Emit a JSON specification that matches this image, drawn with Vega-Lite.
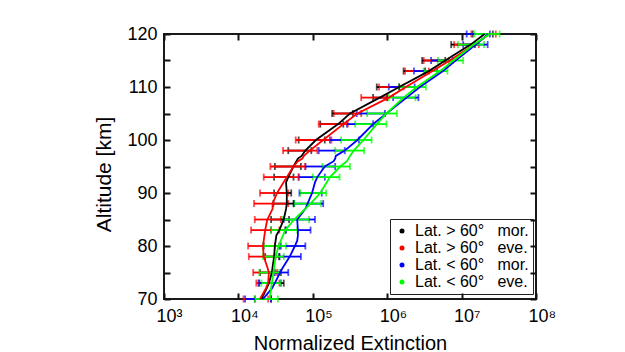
{
  "$schema": "https://vega.github.io/schema/vega-lite/v6.json",
  "width": 372,
  "height": 265,
  "autosize": {"type": "none"},
  "padding": {"left": 164, "top": 34, "right": 89, "bottom": 53},
  "background": "white",
  "datasets": {
    "prof": [
      {"s":"k","alt":120,"v":2.04e7},{"s":"k","alt":118,"v":1.32e7},{"s":"k","alt":115,"v":6.03e6},{"s":"k","alt":113,"v":3.63e6},{"s":"k","alt":110,"v":1.45e6},{"s":"k","alt":108,"v":7.94e5},{"s":"k","alt":105,"v":3.16e5},{"s":"k","alt":103,"v":2.19e5},{"s":"k","alt":100,"v":1.10e5},{"s":"k","alt":98,"v":7.94e4},{"s":"k","alt":97,"v":7.08e4},{"s":"k","alt":96.5,"v":6.31e4},{"s":"k","alt":95,"v":5.50e4},{"s":"k","alt":93,"v":4.68e4},{"s":"k","alt":92,"v":4.37e4},{"s":"k","alt":90,"v":4.47e4},{"s":"k","alt":88,"v":4.47e4},{"s":"k","alt":87,"v":4.37e4},{"s":"k","alt":85,"v":4.07e4},{"s":"k","alt":83,"v":3.55e4},{"s":"k","alt":82,"v":3.24e4},{"s":"k","alt":80,"v":3.09e4},{"s":"k","alt":78,"v":3.02e4},{"s":"k","alt":76,"v":2.88e4},{"s":"k","alt":75,"v":2.82e4},{"s":"k","alt":73,"v":2.57e4},{"s":"k","alt":72,"v":2.40e4},{"s":"k","alt":70,"v":2.04e4},
      {"s":"r","alt":120,"v":2.40e7},{"s":"r","alt":118,"v":1.48e7},{"s":"r","alt":115,"v":6.92e6},{"s":"r","alt":113,"v":4.07e6},{"s":"r","alt":110,"v":1.78e6},{"s":"r","alt":108,"v":1.05e6},{"s":"r","alt":105,"v":3.98e5},{"s":"r","alt":103,"v":2.57e5},{"s":"r","alt":100,"v":1.38e5},{"s":"r","alt":98,"v":9.12e4},{"s":"r","alt":97,"v":7.59e4},{"s":"r","alt":96.5,"v":7.24e4},{"s":"r","alt":96,"v":6.31e4},{"s":"r","alt":95,"v":5.50e4},{"s":"r","alt":93,"v":4.47e4},{"s":"r","alt":90,"v":3.31e4},{"s":"r","alt":88,"v":2.88e4},{"s":"r","alt":87,"v":2.88e4},{"s":"r","alt":85,"v":2.45e4},{"s":"r","alt":83,"v":2.29e4},{"s":"r","alt":82,"v":2.24e4},{"s":"r","alt":80,"v":2.14e4},{"s":"r","alt":78,"v":2.19e4},{"s":"r","alt":76,"v":2.45e4},{"s":"r","alt":75,"v":2.57e4},{"s":"r","alt":73,"v":2.51e4},{"s":"r","alt":72,"v":2.34e4},{"s":"r","alt":70,"v":1.95e4},
      {"s":"b","alt":120,"v":2.29e7},{"s":"b","alt":118,"v":1.55e7},{"s":"b","alt":115,"v":8.32e6},{"s":"b","alt":113,"v":5.62e6},{"s":"b","alt":110,"v":2.75e6},{"s":"b","alt":108,"v":1.82e6},{"s":"b","alt":105,"v":9.77e5},{"s":"b","alt":103,"v":6.46e5},{"s":"b","alt":100,"v":3.98e5},{"s":"b","alt":98,"v":2.69e5},{"s":"b","alt":97,"v":2.04e5},{"s":"b","alt":96.5,"v":2.00e5},{"s":"b","alt":96,"v":1.91e5},{"s":"b","alt":95,"v":1.45e5},{"s":"b","alt":93,"v":1.15e5},{"s":"b","alt":92,"v":1.07e5},{"s":"b","alt":90,"v":9.77e4},{"s":"b","alt":88,"v":8.51e4},{"s":"b","alt":87,"v":7.94e4},{"s":"b","alt":85,"v":6.17e4},{"s":"b","alt":83,"v":6.31e4},{"s":"b","alt":82,"v":6.31e4},{"s":"b","alt":81,"v":6.17e4},{"s":"b","alt":80,"v":5.75e4},{"s":"b","alt":78,"v":4.90e4},{"s":"b","alt":76,"v":3.98e4},{"s":"b","alt":75,"v":3.63e4},{"s":"b","alt":73,"v":3.09e4},{"s":"b","alt":72,"v":2.82e4},{"s":"b","alt":70,"v":2.14e4},
      {"s":"g","alt":120,"v":2.40e7},{"s":"g","alt":118,"v":1.45e7},{"s":"g","alt":115,"v":7.76e6},{"s":"g","alt":113,"v":5.13e6},{"s":"g","alt":110,"v":2.51e6},{"s":"g","alt":108,"v":1.66e6},{"s":"g","alt":105,"v":9.77e5},{"s":"g","alt":103,"v":7.24e5},{"s":"g","alt":100,"v":4.79e5},{"s":"g","alt":98,"v":3.55e5},{"s":"g","alt":97,"v":3.16e5},{"s":"g","alt":96,"v":2.88e5},{"s":"g","alt":95,"v":2.34e5},{"s":"g","alt":93,"v":1.70e5},{"s":"g","alt":90,"v":1.26e5},{"s":"g","alt":88,"v":9.33e4},{"s":"g","alt":85,"v":5.62e4},{"s":"g","alt":83,"v":4.27e4},{"s":"g","alt":82,"v":3.98e4},{"s":"g","alt":80,"v":3.47e4},{"s":"g","alt":78,"v":3.16e4},{"s":"g","alt":76,"v":3.02e4},{"s":"g","alt":75,"v":2.95e4},{"s":"g","alt":73,"v":2.82e4},{"s":"g","alt":72,"v":2.75e4},{"s":"g","alt":70,"v":2.63e4}
    ],
    "bars": [
      {"s":"k","alt":120,"lo":1.41e7,"hi":2.63e7},{"s":"r","alt":120,"lo":1.35e7,"hi":2.88e7},{"s":"b","alt":120,"lo":1.17e7,"hi":2.40e7},{"s":"g","alt":120,"lo":1.48e7,"hi":3.24e7},
      {"s":"k","alt":118,"lo":7.24e6,"hi":1.51e7},{"s":"r","alt":118,"lo":7.94e6,"hi":1.70e7},{"s":"b","alt":118,"lo":1.05e7,"hi":2.24e7},{"s":"g","alt":118,"lo":8.91e6,"hi":2.00e7},
      {"s":"k","alt":115,"lo":2.95e6,"hi":6.03e6},{"s":"r","alt":115,"lo":3.09e6,"hi":6.76e6},{"s":"b","alt":115,"lo":3.89e6,"hi":7.59e6},{"s":"g","alt":115,"lo":4.79e6,"hi":1.05e7},
      {"s":"k","alt":113,"lo":1.66e6,"hi":3.24e6},{"s":"r","alt":113,"lo":1.74e6,"hi":3.63e6},{"s":"b","alt":113,"lo":2.29e6,"hi":4.68e6},{"s":"g","alt":113,"lo":3.09e6,"hi":6.46e6},
      {"s":"k","alt":110,"lo":7.24e5,"hi":1.45e6},{"s":"r","alt":110,"lo":7.76e5,"hi":1.66e6},{"s":"b","alt":110,"lo":1.05e6,"hi":2.34e6},{"s":"g","alt":110,"lo":1.45e6,"hi":3.31e6},
      {"s":"k","alt":108,"lo":6.46e5,"hi":1.00e6},{"s":"r","alt":108,"lo":4.47e5,"hi":9.77e5},{"s":"b","alt":108,"lo":1.20e6,"hi":2.63e6},{"s":"g","alt":108,"lo":1.05e6,"hi":2.40e6},
      {"s":"k","alt":105,"lo":1.82e5,"hi":3.47e5},{"s":"r","alt":105,"lo":1.91e5,"hi":4.47e5},{"s":"b","alt":105,"lo":3.89e5,"hi":9.33e5},{"s":"g","alt":105,"lo":5.37e5,"hi":1.35e6},
      {"s":"k","alt":103,"lo":1.26e5,"hi":2.57e5},{"s":"r","alt":103,"lo":1.20e5,"hi":2.95e5},{"s":"b","alt":103,"lo":2.88e5,"hi":6.46e5},{"s":"g","alt":103,"lo":3.72e5,"hi":9.77e5},
      {"s":"k","alt":100,"lo":6.46e4,"hi":1.45e5},{"s":"r","alt":100,"lo":5.89e4,"hi":1.78e5},{"s":"b","alt":100,"lo":1.70e5,"hi":4.17e5},{"s":"g","alt":100,"lo":2.40e5,"hi":6.17e5},
      {"s":"k","alt":98,"lo":4.68e4,"hi":9.55e4},{"s":"r","alt":98,"lo":3.98e4,"hi":1.15e5},{"s":"b","alt":98,"lo":1.20e5,"hi":2.69e5},{"s":"g","alt":98,"lo":2.00e5,"hi":4.90e5},
      {"s":"k","alt":95,"lo":3.09e4,"hi":6.92e4},{"s":"r","alt":95,"lo":2.69e4,"hi":7.94e4},{"s":"b","alt":95,"lo":7.94e4,"hi":2.00e5},{"s":"g","alt":95,"lo":1.35e5,"hi":3.16e5},
      {"s":"k","alt":93,"lo":3.02e4,"hi":5.50e4},{"s":"r","alt":93,"lo":2.19e4,"hi":6.46e4},{"s":"b","alt":93,"lo":6.46e4,"hi":1.45e5},{"s":"g","alt":93,"lo":1.00e5,"hi":2.29e5},
      {"s":"k","alt":90,"lo":3.02e4,"hi":5.13e4},{"s":"r","alt":90,"lo":1.95e4,"hi":4.68e4},{"s":"b","alt":90,"lo":6.61e4,"hi":1.32e5},{"s":"g","alt":90,"lo":6.76e4,"hi":1.51e5},
      {"s":"k","alt":88,"lo":2.95e4,"hi":5.50e4},{"s":"r","alt":88,"lo":1.62e4,"hi":4.68e4},{"s":"b","alt":88,"lo":5.62e4,"hi":1.38e5},{"s":"g","alt":88,"lo":5.62e4,"hi":1.29e5},
      {"s":"k","alt":85,"lo":2.75e4,"hi":4.79e4},{"s":"r","alt":85,"lo":1.66e4,"hi":3.72e4},{"s":"b","alt":85,"lo":4.07e4,"hi":1.07e5},{"s":"g","alt":85,"lo":3.98e4,"hi":8.91e4},
      {"s":"k","alt":83,"lo":2.75e4,"hi":4.27e4},{"s":"r","alt":83,"lo":1.48e4,"hi":3.55e4},{"s":"b","alt":83,"lo":4.37e4,"hi":9.33e4},{"s":"g","alt":83,"lo":2.75e4,"hi":6.17e4},
      {"s":"k","alt":80,"lo":2.19e4,"hi":3.55e4},{"s":"r","alt":80,"lo":1.35e4,"hi":3.09e4},{"s":"b","alt":80,"lo":3.72e4,"hi":7.94e4},{"s":"g","alt":80,"lo":2.14e4,"hi":4.37e4},
      {"s":"k","alt":78,"lo":2.29e4,"hi":3.55e4},{"s":"r","alt":78,"lo":1.38e4,"hi":3.16e4},{"s":"b","alt":78,"lo":3.55e4,"hi":6.92e4},{"s":"g","alt":78,"lo":2.14e4,"hi":4.07e4},
      {"s":"k","alt":75,"lo":1.95e4,"hi":3.72e4},{"s":"r","alt":75,"lo":1.58e4,"hi":3.31e4},{"s":"b","alt":75,"lo":3.09e4,"hi":4.68e4},{"s":"g","alt":75,"lo":1.91e4,"hi":3.55e4},
      {"s":"k","alt":73,"lo":1.91e4,"hi":4.07e4},{"s":"r","alt":73,"lo":1.74e4,"hi":3.55e4},{"s":"b","alt":73,"lo":1.86e4,"hi":3.72e4},{"s":"g","alt":73,"lo":2.04e4,"hi":3.72e4},
      {"s":"k","alt":70,"lo":1.66e4,"hi":2.75e4},{"s":"r","alt":70,"lo":1.17e4,"hi":2.51e4},{"s":"b","alt":70,"lo":1.23e4,"hi":2.75e4},{"s":"g","alt":70,"lo":1.66e4,"hi":3.39e4}
    ]
  },
  "layer": [
    {
      "data": {"name": "bars"},
      "mark": {"type": "errorbar", "ticks": true, "size": 7, "thickness": 1.8},
      "encoding": {
        "x": {"field": "lo", "type": "quantitative", "scale": {"type": "log", "domain": [1000, 100000000], "nice": false},
              "axis": {"orient": "top", "values": [1000, 10000, 100000, 1000000, 10000000, 100000000], "labels": false, "title": null, "ticks": true, "tickSize": 6, "offset": -6, "domain": false, "tickColor": "#111", "tickWidth": 2, "zindex": 2}},
        "x2": {"field": "hi"},
        "y": {"field": "alt", "type": "quantitative", "scale": {"domain": [70, 120], "nice": false, "zero": false},
              "axis": {"orient": "right", "values": [70, 75, 80, 85, 90, 95, 100, 105, 110, 115, 120], "labels": false, "title": null, "ticks": true, "tickSize": 6, "offset": -6, "domain": false, "tickColor": "#111", "tickWidth": 2, "zindex": 2}},
        "color": {"field": "s", "type": "nominal", "scale": {"domain": ["k", "r", "b", "g"], "range": ["#000000", "#ff0000", "#0000ff", "#00ff00"]}}
      }
    },
    {
      "data": {"name": "prof"},
      "mark": {"type": "line", "strokeWidth": 1.8},
      "encoding": {
        "x": {"field": "v", "type": "quantitative", "scale": {"type": "log", "domain": [1000, 100000000], "nice": false},
              "axis": {"orient": "bottom", "values": [1000, 10000, 100000, 1000000, 10000000, 100000000], "title": "Normalized Extinction", "ticks": true, "tickSize": 6, "offset": -6, "domain": false, "tickColor": "#111", "tickWidth": 2, "zindex": 2,
                       "labelExpr": "'10' + ['⁰','¹','²','³','⁴','⁵','⁶','⁷','⁸'][round(log(datum.value)/LN10)]",
                       "labelAlign": "left", "labelOffset": -8, "labelFlush": false,
                       "labelFontSize": 18, "labelPadding": 8, "titleFontSize": 20, "titlePadding": 8}},
        "y": {"field": "alt", "type": "quantitative", "scale": {"domain": [70, 120], "nice": false, "zero": false},
              "axis": {"orient": "left", "values": [70, 75, 80, 85, 90, 95, 100, 105, 110, 115, 120], "title": "Altitude [km]", "ticks": true, "tickSize": 6, "offset": -6, "domain": false, "tickColor": "#111", "tickWidth": 2, "zindex": 2,
                       "labelExpr": "datum.value % 10 === 0 ? datum.label : ''", "labelFlush": false,
                       "labelFontSize": 18, "labelPadding": 7, "titleFontSize": 21, "titlePadding": 12, "titleY": 140}},
        "order": {"field": "alt", "type": "quantitative"},
        "color": {"field": "s", "type": "nominal", "scale": {"domain": ["k", "r", "b", "g"], "range": ["#000000", "#ff0000", "#0000ff", "#00ff00"]},
                  "legend": {"title": null, "orient": "none", "legendX": 226, "legendY": 185,
                             "labelExpr": "datum.value === 'k' ? 'Lat. > 60°\u00a0\u00a0\u00a0mor.' : datum.value === 'r' ? 'Lat. > 60°\u00a0\u00a0\u00a0eve.' : datum.value === 'b' ? 'Lat. < 60°\u00a0\u00a0\u00a0mor.' : 'Lat. < 60°\u00a0\u00a0\u00a0eve.'",
                             "symbolType": "circle", "symbolSize": 25, "symbolStrokeWidth": 0, "labelFontSize": 16, "labelFont": "Liberation Sans", "labelColor": "#000",
                             "strokeColor": "#222", "fillColor": "white", "padding": 4, "rowPadding": 1, "labelOffset": 5,
                             "encode": {"symbols": {"update": {"fill": {"scale": "color", "field": "value"}}}}}}
      }
    }
  ],
  "resolve": {"axis": {"x": "independent", "y": "independent"}},
  "config": {
    "view": {"stroke": "#1a1a1a", "strokeWidth": 2},
    "axis": {"grid": false, "labelFont": "Liberation Sans", "titleFont": "Liberation Sans", "labelColor": "#000", "titleColor": "#000", "titleFontWeight": "normal"}
  }
}
